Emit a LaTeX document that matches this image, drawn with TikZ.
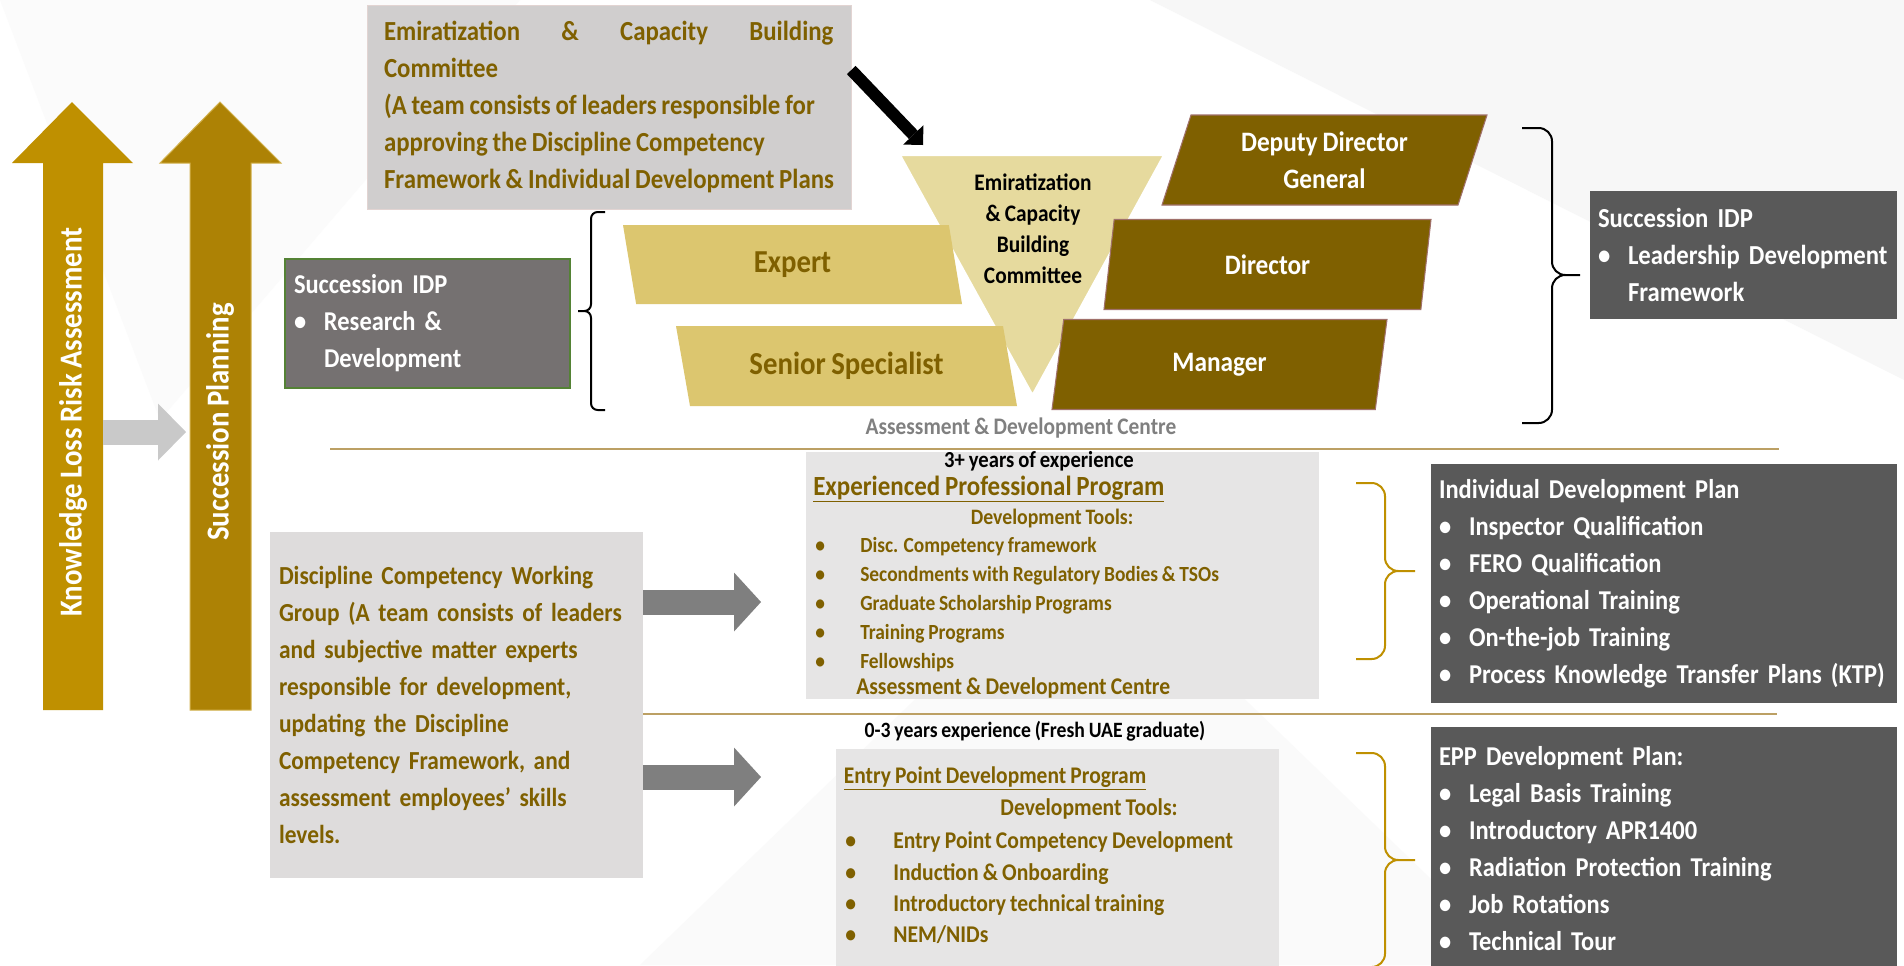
\documentclass[tikz,border=0pt]{standalone}
\usepackage{fontspec}
\setmainfont{Carlito}[FakeStretch=0.9, WordSpace=0.85]
\usetikzlibrary{shapes.geometric, arrows.meta}

\definecolor{goldA}{HTML}{BF9000}
\definecolor{goldB}{HTML}{AD8205}
\definecolor{tanfill}{HTML}{DCC66F}
\definecolor{funnelfill}{HTML}{E6DA9E}
\definecolor{olivetxt}{HTML}{7F6000}
\definecolor{rosyedge}{HTML}{A0706A}
\definecolor{idpgray}{HTML}{757171}
\definecolor{idpgreen}{HTML}{548235}
\definecolor{slate}{HTML}{595959}
\definecolor{paper}{HTML}{E6E5E5}
\definecolor{dcwgfill}{HTML}{DEDCDC}
\definecolor{commfill}{HTML}{D0CECE}
\definecolor{rule}{HTML}{BCA064}
\definecolor{blockgray}{HTML}{7F7F7F}
\definecolor{lightgray2}{HTML}{C9C9C9}
\definecolor{adcgray}{HTML}{808080}

\newcommand{\fsize}[2]{\fontsize{#1}{#2}\selectfont\bfseries}
\newcommand{\dotcol}[1]{\makebox[#1][l]{\textbullet}}
% brace: tip x, spine x, point x, top y, middle y, bottom y
\newcommand{\bracepath}[6]{(#1,#4) -- (#2,#4) -- (#2,#5) -- (#3,#5) (#3,#5) -- (#2,#5) -- (#2,#6) -- (#1,#6)}

\begin{document}
\begin{tikzpicture}[x=0.75pt, y=-0.75pt]

\tikzset{para/.style = {trapezium, trapezium stretches body, inner sep=0pt, align=center}}
\tikzset{lowpara/.style = {para, trapezium left angle=117, trapezium right angle=63, fill=tanfill, text=olivetxt, minimum height=59.25pt, font=\fsize{24}{27}}}
\tikzset{highpara/.style = {para, trapezium left angle=63, trapezium right angle=117, fill=olivetxt, draw=rosyedge, line width=0.8pt, text=white, minimum height=67.5pt, font=\fsize{21.1}{27.75}}}
\tikzset{txt/.style = {inner sep=0pt, text=olivetxt, align=left}}
\tikzset{darkbox/.style = {fill=slate, text=white, align=left, inner xsep=6pt, inner ysep=0pt, font=\fsize{20.4}{27.75}}}
\tikzset{vtext/.style = {rotate=90, inner sep=0pt, text=white, font=\fsize{24}{28}}}
\tikzset{bracket/.style = {line width=1.5pt, rounded corners=#1}}
\tikzset{darkblock/.style = {blockgray, line width=18.75pt, -{Triangle[length=20.25pt, width=44.25pt, line width=0pt]}}}

%background
\fill[white] (0,0) rectangle (1904,965);
\fill[gray!6] (1150,0) -- (1904,0) -- (1904,380) -- cycle;
\fill[gray!3] (0,0) -- (520,0) -- (160,420) -- cycle;
\fill[gray!4] (640,965) -- (1080,540) -- (1520,965) -- cycle;
\useasboundingbox (0,0) rectangle (1904,965);

%side arrows
\fill[goldA] (43,710) -- (43,163) -- (12,163) -- (72,102) -- (133,163) -- (103,163) -- (103,710) -- cycle;
\fill[goldB, draw=goldA!70!white, line width=0.75pt] (190,710) -- (190,163) -- (160,163) -- (220,102) -- (281,163) -- (251,163) -- (251,710) -- cycle;
\node[vtext] (klra) at (73,422) {Knowledge Loss Risk Assessment};
\node[vtext] (sp) at (220,422) {Succession Planning};
\coordinate (klraedge) at (103,432);
\coordinate (sptip) at (186,432);
\draw[lightgray2, line width=18.75pt, -{Triangle[length=21pt, width=42.75pt, line width=0pt]}] (klraedge) -- (sptip);

%committee
\node[txt, fill=commfill, draw=rosyedge!30, minimum width=363pt, minimum height=153pt, font=\fsize{20.7}{27.75}] (comm) at (609,107)
  {\makebox[337pt][s]{Emiratization \hfill \& \hfill Capacity \hfill Building}\\
   Committee\\
   (A team consists of leaders responsible for\\
   approving the Discipline Competency\\
   Framework \& Individual Development Plans};

\fill[funnelfill, draw=white, line width=1.5pt] (900,155) -- (1164,155) -- (1032.5,395) -- cycle;
\node[inner sep=0pt, align=center, font=\fsize{17.8}{23.25}] (funnel) at (1033,229) {Emiratization\\\& Capacity\\Building\\Committee};
\coordinate (funnelin) at (923,145);
\draw[black, line width=9pt, -{Triangle[length=10.5pt, width=21pt, line width=0pt]}] ([yshift=27.75pt]comm.east) -- (funnelin);

%levels
\node[lowpara, minimum width=254.25pt] (expert) at (792.5,264.5) {Expert};
\node[lowpara, minimum width=255.75pt, minimum height=60pt] (senior) at (846.5,366) {Senior Specialist};
\node[highpara, minimum width=243.75pt] (ddg) at (1324.5,160) {Deputy Director\\General};
\node[highpara, minimum width=245.25pt] (director) at (1267.5,264.5) {Director};
\node[highpara, minimum width=251.25pt] (manager) at (1219.5,364.5) {Manager};
\node[inner sep=0pt, text=adcgray, font=\fsize{17.8}{20}] (adc) at (1021,428) {Assessment \& Development Centre};

\draw[black, bracket=5pt] \bracepath{605}{591}{578}{212}{311}{410};
\draw[black, bracket=10pt] \bracepath{1522}{1552}{1580}{128}{275}{423};

\node[fill=idpgray, draw=idpgreen, line width=1.5pt, text=white, align=left, text width=200.25pt, inner xsep=6.75pt, inner ysep=0pt,
  minimum height=96.75pt, font=\fsize{20.4}{27.75}] (idpleft) at (427.5,323.5)
  {Succession IDP\\\dotcol{22.5pt}Research \&\\\hspace*{22.5pt}Development};
\node[darkbox, text width=218.25pt, minimum height=96pt, font=\fsize{20.6}{27.75}] (idpright) at (1743.5,255)
  {Succession IDP\\\dotcol{22.5pt}Leadership Development\\\hspace*{22.5pt}Framework};

%rules
\draw[rule, line width=1.5pt] (330,449) -- (1779,449);

%discipline group
\node[txt, fill=dcwgfill, text width=266.25pt, inner xsep=6.75pt, minimum height=259.5pt, font=\fsize{19.5}{27.75}] (dcwg) at (456.5,705)
  {Discipline Competency Working\\
   Group (A team consists of leaders\\
   and subjective matter experts\\
   responsible for development,\\
   updating the Discipline\\
   Competency Framework, and\\
   assessment employees’ skills\\
   levels.};
\draw[rule, line width=1.5pt] (dcwg.east |- 0,714) -- (1777,714);

%experienced program
\node[fill=paper, minimum width=384.75pt, minimum height=185.25pt] (epbox) at (1062.5,575.5) {};
\node[inner sep=0pt, font=\fsize{17.2}{20}] (epyears) at (1039,461) {3+ years of experience};
\node[txt, anchor=west, font=\fsize{20.8}{24}] (eptitle) at (813,489) {\underline{Experienced Professional Program}};
\node[txt, font=\fsize{16.5}{19}] (eptools) at (1052,519) {Development Tools:};
\node[txt, anchor=west, font=\fsize{16.2}{21.75}] (eplist) at (815,605)
  {\dotcol{33.75pt}Disc. Competency framework\\
   \dotcol{33.75pt}Secondments with Regulatory Bodies \& TSOs\\
   \dotcol{33.75pt}Graduate Scholarship Programs\\
   \dotcol{33.75pt}Training Programs\\
   \dotcol{33.75pt}Fellowships};
\node[txt, anchor=west, font=\fsize{18}{20}] (epadc) at (856,688) {Assessment \& Development Centre};

%entry program
\node[inner sep=0pt, font=\fsize{16.4}{19}] (entyears) at (1035,731) {0-3 years experience (Fresh UAE graduate)};
\node[fill=paper, minimum width=332.25pt, minimum height=165.75pt] (entbox) at (1057.5,859.5) {};
\node[txt, anchor=west, font=\fsize{17.9}{20}] (enttitle) at (843.5,778) {\underline{Entry Point Development Program}};
\node[txt, font=\fsize{18}{20}] (enttools) at (1089,809) {Development Tools:};
\node[txt, anchor=west, font=\fsize{18}{23.5}] (entlist) at (845,888)
  {\dotcol{36pt}Entry Point Competency Development\\
   \dotcol{36pt}Induction \& Onboarding\\
   \dotcol{36pt}Introductory technical training\\
   \dotcol{36pt}NEM/NIDs};

\coordinate (eptip) at (761,602);
\coordinate (enttip) at (761,777);
\draw[darkblock] (dcwg.east |- eptip) -- (eptip);
\draw[darkblock] (dcwg.east |- enttip) -- (enttip);

%plans
\node[darkbox, text width=337.5pt, minimum height=179.6pt] (idp) at (1664,583.75)
  {Individual Development Plan\\
   \dotcol{22.5pt}Inspector Qualification\\
   \dotcol{22.5pt}FERO Qualification\\
   \dotcol{22.5pt}Operational Training\\
   \dotcol{22.5pt}On-the-job Training\\
   \dotcol{22.5pt}Process Knowledge Transfer Plans (KTP)};
\node[darkbox, text width=337.5pt, minimum height=182.25pt] (eppplan) at (1664,848.5)
  {EPP Development Plan:\\
   \dotcol{22.5pt}Legal Basis Training\\
   \dotcol{22.5pt}Introductory APR1400\\
   \dotcol{22.5pt}Radiation Protection Training\\
   \dotcol{22.5pt}Job Rotations\\
   \dotcol{22.5pt}Technical Tour};

\draw[goldA, bracket=10pt] \bracepath{1356}{1385}{1415}{483}{571}{659};
\draw[goldA, bracket=10pt] \bracepath{1356}{1385}{1415}{753}{860}{967};

\end{tikzpicture}
\end{document}
